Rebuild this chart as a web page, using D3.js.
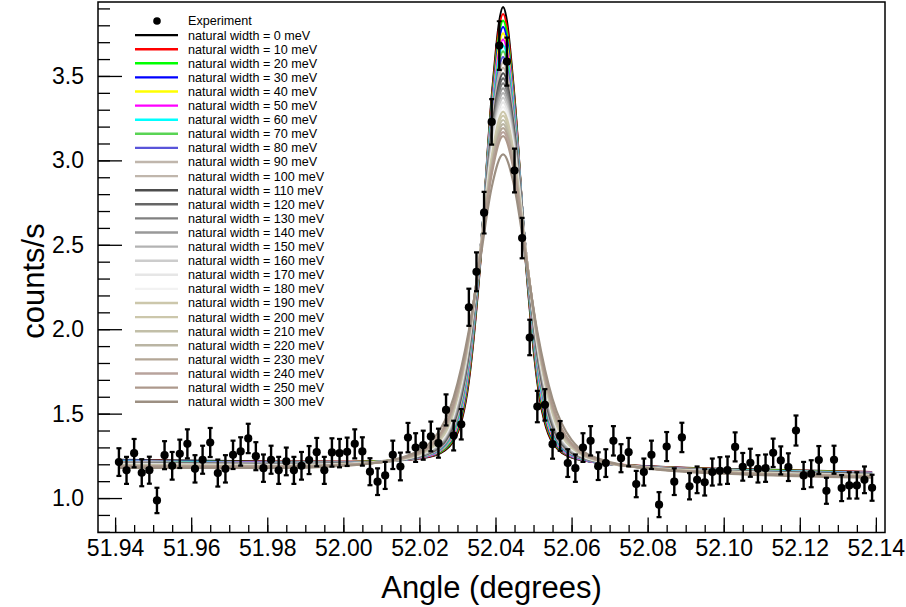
<!DOCTYPE html>
<html>
<head>
<meta charset="utf-8">
<script src="https://cdn.jsdelivr.net/npm/d3@7"></script>
<style>
  body { margin: 0; background: #fff; }
  text { font-family: "Liberation Sans", Arial, Helvetica, sans-serif; }
</style>
</head>
<body>
<div id="chart"></div>
<script>
// measured points
let angle = [51.941,51.943,51.945,51.947,51.949,51.951,51.953,51.955,51.957,51.959,
  51.961,51.963,51.965,51.967,51.969,51.971,51.973,51.975,51.977,51.979,
  51.981,51.983,51.985,51.987,51.989,51.991,51.993,51.995,51.997,51.999,
  52.001,52.003,52.005,52.007,52.009,52.011,52.013,52.015,52.017,52.019,
  52.021,52.023,52.025,52.027,52.029,52.031,52.033,52.035,52.037,52.039,
  52.041,52.043,52.045,52.047,52.049,52.051,52.053,52.055,52.057,52.059,
  52.061,52.063,52.065,52.067,52.069,52.071,52.073,52.075,52.077,52.079,
  52.081,52.083,52.085,52.087,52.089,52.091,52.093,52.095,52.097,52.099,
  52.101,52.103,52.105,52.107,52.109,52.111,52.113,52.115,52.117,52.119,
  52.121,52.123,52.125,52.127,52.129,52.131,52.133,52.135,52.137,52.139];
let counts = [1.213,1.164,1.266,1.150,1.165,0.986,1.254,1.191,1.262,1.321,
  1.173,1.227,1.329,1.148,1.173,1.256,1.276,1.353,1.248,1.177,
  1.227,1.164,1.217,1.164,1.191,1.225,1.272,1.164,1.270,1.266,
  1.274,1.321,1.276,1.156,1.097,1.134,1.256,1.187,1.358,1.299,
  1.313,1.365,1.325,1.522,1.370,1.437,2.130,2.340,2.690,3.228,
  3.680,3.585,2.940,2.540,1.951,1.542,1.552,1.319,1.368,1.207,
  1.177,1.299,1.339,1.189,1.207,1.339,1.236,1.272,1.083,1.154,
  1.256,0.961,1.305,1.097,1.359,1.070,1.108,1.093,1.154,1.161,
  1.165,1.303,1.185,1.209,1.173,1.177,1.268,1.223,1.183,1.400,
  1.134,1.144,1.225,1.043,1.227,1.059,1.075,1.075,1.108,1.061];
let errors = [0.082,0.080,0.084,0.080,0.080,0.075,0.083,0.082,0.084,0.086,
  0.081,0.083,0.086,0.080,0.081,0.084,0.084,0.087,0.083,0.081,
  0.083,0.080,0.082,0.080,0.082,0.083,0.084,0.080,0.084,0.084,
  0.084,0.086,0.084,0.080,0.079,0.080,0.084,0.082,0.087,0.085,
  0.086,0.088,0.086,0.092,0.088,0.090,0.110,0.115,0.123,0.135,
  0.144,0.142,0.129,0.120,0.105,0.093,0.093,0.086,0.088,0.082,
  0.081,0.085,0.087,0.082,0.082,0.087,0.083,0.084,0.078,0.080,
  0.084,0.074,0.086,0.079,0.087,0.078,0.079,0.078,0.080,0.081,
  0.081,0.086,0.082,0.083,0.081,0.081,0.084,0.083,0.082,0.089,
  0.080,0.080,0.083,0.077,0.083,0.077,0.078,0.078,0.079,0.077];

// calculated line shapes, one row per natural width
let widths = [0,10,20,30,40,50,60,70,80,90,100,110,120,130,140,150,160,170,180,190,200,210,220,230,240,250,300];
let fitAngle = [51.941,51.982,52.002,52.016,52.024,52.029,52.033,52.036,52.039,52.042,
  52.045,52.048,52.051,52.055,52.060,52.068,52.082,52.102,52.139];
let fitCounts = [
  [1.227,1.216,1.215,1.226,1.253,1.339,1.695,2.395,3.373,3.908,3.371,2.391,1.688,1.329,1.240,1.207,1.186,1.172,1.154],
  [1.225,1.214,1.214,1.227,1.256,1.347,1.714,2.405,3.353,3.867,3.351,2.401,1.707,1.337,1.243,1.208,1.185,1.170,1.153],
  [1.223,1.213,1.213,1.227,1.258,1.355,1.731,2.415,3.334,3.828,3.332,2.410,1.724,1.346,1.245,1.208,1.184,1.169,1.151],
  [1.223,1.212,1.212,1.227,1.260,1.364,1.748,2.424,3.316,3.790,3.314,2.420,1.742,1.354,1.246,1.207,1.184,1.168,1.151],
  [1.221,1.210,1.212,1.227,1.262,1.373,1.765,2.433,3.297,3.752,3.294,2.428,1.758,1.364,1.249,1.208,1.183,1.167,1.150],
  [1.219,1.209,1.210,1.227,1.264,1.383,1.780,2.439,3.277,3.716,3.275,2.435,1.773,1.373,1.251,1.208,1.182,1.166,1.149],
  [1.217,1.208,1.209,1.228,1.268,1.392,1.796,2.444,3.257,3.680,3.255,2.440,1.789,1.382,1.255,1.209,1.181,1.165,1.147],
  [1.215,1.206,1.209,1.228,1.270,1.400,1.810,2.450,3.239,3.646,3.237,2.445,1.803,1.391,1.257,1.209,1.181,1.164,1.146],
  [1.215,1.205,1.208,1.229,1.273,1.411,1.824,2.454,3.219,3.612,3.217,2.450,1.818,1.401,1.259,1.209,1.180,1.163,1.146],
  [1.213,1.204,1.207,1.229,1.276,1.420,1.838,2.458,3.201,3.579,3.198,2.453,1.831,1.411,1.263,1.210,1.180,1.162,1.144],
  [1.211,1.203,1.207,1.229,1.279,1.430,1.850,2.460,3.183,3.548,3.181,2.456,1.843,1.420,1.266,1.210,1.179,1.162,1.143],
  [1.209,1.201,1.206,1.230,1.282,1.439,1.862,2.462,3.163,3.516,3.161,2.458,1.856,1.429,1.269,1.211,1.179,1.160,1.142],
  [1.207,1.200,1.205,1.230,1.285,1.448,1.874,2.464,3.146,3.486,3.144,2.459,1.867,1.439,1.272,1.211,1.178,1.159,1.140],
  [1.206,1.199,1.204,1.231,1.289,1.458,1.885,2.464,3.127,3.456,3.125,2.460,1.879,1.448,1.275,1.211,1.178,1.158,1.139],
  [1.205,1.197,1.204,1.231,1.292,1.467,1.896,2.465,3.109,3.427,3.106,2.460,1.889,1.458,1.279,1.212,1.177,1.157,1.139],
  [1.203,1.197,1.203,1.231,1.295,1.477,1.905,2.464,3.090,3.398,3.088,2.460,1.898,1.467,1.282,1.212,1.177,1.157,1.138],
  [1.201,1.195,1.202,1.233,1.300,1.486,1.915,2.463,3.072,3.370,3.070,2.459,1.908,1.476,1.287,1.214,1.176,1.155,1.136],
  [1.199,1.193,1.202,1.233,1.303,1.494,1.923,2.462,3.055,3.343,3.053,2.457,1.916,1.485,1.290,1.214,1.176,1.154,1.135],
  [1.198,1.192,1.201,1.234,1.307,1.504,1.931,2.460,3.037,3.316,3.035,2.456,1.925,1.494,1.293,1.214,1.175,1.153,1.134],
  [1.196,1.191,1.200,1.235,1.311,1.512,1.939,2.458,3.020,3.289,3.017,2.453,1.932,1.503,1.298,1.216,1.175,1.152,1.132],
  [1.195,1.190,1.200,1.235,1.315,1.521,1.946,2.456,3.003,3.265,3.001,2.452,1.939,1.511,1.302,1.216,1.174,1.152,1.132],
  [1.193,1.188,1.199,1.236,1.320,1.529,1.953,2.452,2.985,3.239,2.983,2.448,1.946,1.519,1.307,1.217,1.174,1.150,1.131],
  [1.191,1.188,1.198,1.237,1.324,1.537,1.959,2.450,2.969,3.215,2.967,2.445,1.952,1.528,1.311,1.218,1.173,1.150,1.129],
  [1.190,1.187,1.197,1.238,1.328,1.546,1.964,2.446,2.952,3.191,2.950,2.442,1.958,1.536,1.314,1.218,1.172,1.149,1.128],
  [1.188,1.185,1.197,1.239,1.332,1.554,1.970,2.443,2.936,3.167,2.933,2.438,1.963,1.545,1.319,1.220,1.172,1.148,1.127],
  [1.187,1.185,1.197,1.239,1.336,1.562,1.974,2.438,2.919,3.144,2.917,2.434,1.967,1.552,1.323,1.220,1.173,1.148,1.127],
  [1.179,1.178,1.194,1.245,1.358,1.597,1.993,2.415,2.840,3.035,2.838,2.411,1.986,1.587,1.345,1.226,1.170,1.143,1.121]
];
let xTicks = [51.94,51.96,51.98,52.00,52.02,52.04,52.06,52.08,52.10,52.12,52.14];
let yTicks = [1.0,1.5,2.0,2.5,3.0,3.5];

let colors = ["#000000","#ff0000","#00ff00","#0000ff","#ffff00","#ff00ff","#00ffff","#59d454","#5954d9",
  "#c0b6ac","#c0b6ac","#4d4d4d","#666666","#808080","#999999","#b3b3b3","#cccccc","#e6e6e6","#f2f2f2",
  "#ccc7ab","#ccc7ab","#c2bfa8","#bab5a3","#b3a696","#b8a39c","#ad998c","#9c8f82"];

let W = 906, H = 607;
let padL = 98, padR = 885, padT = 2, padB = 532.5;

let svg = d3.select("#chart").append("svg")
  .attr("width", W).attr("height", H);

let x = d3.scaleLinear().domain([51.9355, 52.1424]).range([padL, padR]);
let y = d3.scaleLinear().domain([0.796, 3.938]).range([padB, padT]);

svg.append("clipPath").attr("id", "clip")
  .append("rect").attr("x", padL).attr("y", padT)
  .attr("width", padR - padL).attr("height", padB - padT);

let plot = svg.append("g").attr("clip-path", "url(#clip)");

let line = d3.line()
  .x(function (d, i) { return x(fitAngle[i]); })
  .y(function (d) { return y(d); })
  .curve(d3.curveMonotoneX);

plot.selectAll("path.fit")
  .data(fitCounts)
  .enter()
  .append("path")
  .attr("class", "fit")
  .attr("d", line)
  .attr("fill", "none")
  .attr("stroke", function (d, i) { return colors[i]; })
  .attr("stroke-width", 2.2);

// error bars + markers
let pts = plot.selectAll("g.pt")
  .data(counts)
  .enter()
  .append("g")
  .attr("class", "pt");

pts.append("line")
  .attr("x1", function (d, i) { return x(angle[i]); })
  .attr("x2", function (d, i) { return x(angle[i]); })
  .attr("y1", function (d, i) { return y(d - errors[i]); })
  .attr("y2", function (d, i) { return y(d + errors[i]); })
  .attr("stroke", "#000").attr("stroke-width", 2.4);
pts.append("line")
  .attr("x1", function (d, i) { return x(angle[i]) - 2.5; })
  .attr("x2", function (d, i) { return x(angle[i]) + 2.5; })
  .attr("y1", function (d, i) { return y(d + errors[i]); })
  .attr("y2", function (d, i) { return y(d + errors[i]); })
  .attr("stroke", "#000").attr("stroke-width", 2.2);
pts.append("line")
  .attr("x1", function (d, i) { return x(angle[i]) - 2.5; })
  .attr("x2", function (d, i) { return x(angle[i]) + 2.5; })
  .attr("y1", function (d, i) { return y(d - errors[i]); })
  .attr("y2", function (d, i) { return y(d - errors[i]); })
  .attr("stroke", "#000").attr("stroke-width", 2.2);
pts.append("circle")
  .attr("cx", function (d, i) { return x(angle[i]); })
  .attr("cy", function (d) { return y(d); })
  .attr("r", 4.1)
  .attr("fill", "#000");

// legend
let leg = svg.append("g");
let legY0 = 21, legStep = 14.1;
leg.append("circle").attr("cx", 157).attr("cy", legY0).attr("r", 3.8).attr("fill", "#000");
leg.append("text").attr("x", 188).attr("y", legY0).attr("dy", "0.35em")
  .attr("font-size", 12.6).text("Experiment");
widths.forEach(function (w, i) {
  let yy = legY0 + (i + 1) * legStep;
  leg.append("line").attr("x1", 135).attr("x2", 178).attr("y1", yy).attr("y2", yy)
    .attr("stroke", colors[i]).attr("stroke-width", 2.4);
  leg.append("text").attr("x", 188).attr("y", yy).attr("dy", "0.35em")
    .attr("font-size", 12.6).text("natural width = " + w + " meV");
});

// axes
let xMinor = d3.range(51.94, 52.1425, 0.005);
let yMinor = d3.range(0.8, 3.94, 0.1);

svg.append("g").attr("transform", "translate(0," + padB + ")")
  .call(d3.axisBottom(x).tickValues(xMinor).tickSize(-7.5).tickFormat(""))
  .call(function (g) { g.select(".domain").remove(); });
let xa = svg.append("g").attr("transform", "translate(0," + padB + ")")
  .call(d3.axisBottom(x).tickValues(xTicks).tickSize(-15).tickPadding(7).tickFormat(d3.format(".2f")));
xa.select(".domain").remove();
xa.selectAll("text").attr("font-size", 23).attr("fill", "#000");

svg.append("g").attr("transform", "translate(" + padL + ",0)")
  .call(d3.axisLeft(y).tickValues(yMinor).tickSize(-12).tickFormat(""))
  .call(function (g) { g.select(".domain").remove(); });
let ya = svg.append("g").attr("transform", "translate(" + padL + ",0)")
  .call(d3.axisLeft(y).tickValues(yTicks).tickSize(-24).tickPadding(14).tickFormat(d3.format(".1f")));
ya.select(".domain").remove();
ya.selectAll("text").attr("font-size", 23).attr("fill", "#000");

svg.selectAll(".tick line").attr("stroke", "#000").attr("stroke-width", 1.3);

svg.append("rect").attr("x", padL).attr("y", padT)
  .attr("width", padR - padL).attr("height", padB - padT)
  .attr("fill", "none").attr("stroke", "#000").attr("stroke-width", 1.5);

svg.append("text").attr("x", (padL + padR) / 2).attr("y", 598)
  .attr("text-anchor", "middle").attr("font-size", 31).text("Angle (degrees)");
svg.append("text").attr("transform", "translate(44,281) rotate(-90)")
  .attr("text-anchor", "middle").attr("font-size", 31).text("counts/s");
</script>
</body>
</html>
